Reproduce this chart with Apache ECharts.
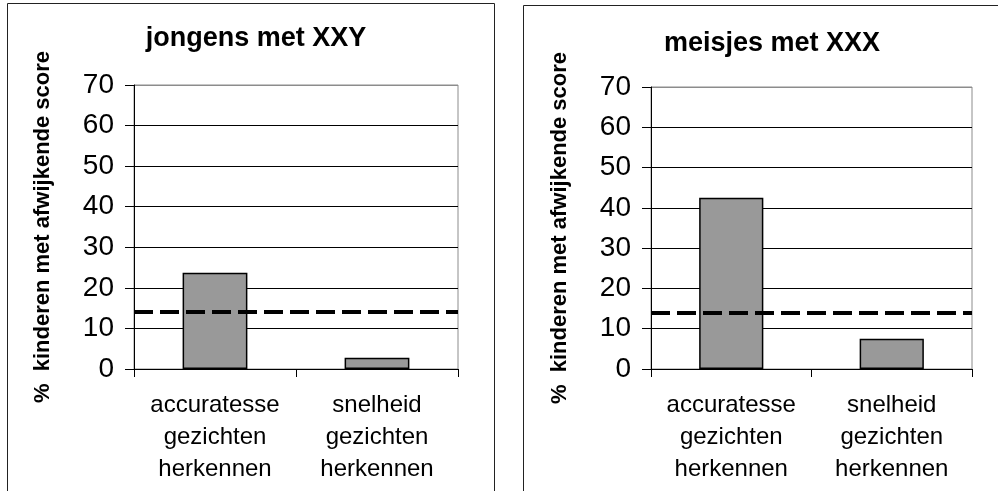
<!DOCTYPE html>
<html>
<head>
<meta charset="utf-8">
<script src="https://cdn.jsdelivr.net/npm/echarts@6/dist/echarts.min.js"></script>
<style>
  html, body { margin: 0; padding: 0; background: #ffffff; }
  #chart { width: 998px; height: 491px; }
</style>
</head>
<body>
<div id="chart"></div>
<script>
// Categories shared by both panels
const categories = ['accuratesse\ngezichten\nherkennen', 'snelheid\ngezichten\nherkennen'];
// Percentage of children with a deviant score
const boysXXY = [23.7, 2.8];
const girlsXXX = [42.5, 7.5];
// Reference level drawn as dashed line
const referenceLevel = [14, 14];
const panelTitles = ['jongens met XXY', 'meisjes met XXX'];
const yAxisTitle = '%  kinderen met afwijkende score';

const FONT = "'Liberation Sans', Arial, sans-serif";

const grids = [
  { left: 134, top: 85, width: 324, height: 284 },
  { left: 651, top: 87, width: 321, height: 282 }
];

function yAxisFor(i) {
  return {
    type: 'value', gridIndex: i, min: 0, max: 70, interval: 10,
    name: yAxisTitle, nameLocation: 'middle', nameGap: 80,
    nameTextStyle: { fontFamily: FONT, fontSize: 22, fontWeight: 'bold', color: '#000' },
    axisLine: { show: true, lineStyle: { color: '#000', width: 1 } },
    axisTick: { show: true, length: 9, lineStyle: { color: '#000', width: 1 } },
    axisLabel: { fontFamily: FONT, fontSize: 28, color: '#000', margin: 20 },
    splitLine: { show: true, lineStyle: { color: ['#000', '#000', '#000', '#000', '#000', '#000', '#000', '#8c8c8c'], width: 1 } }
  };
}

function xAxisFor(i) {
  return {
    type: 'category', gridIndex: i, data: categories,
    axisLine: { show: true, lineStyle: { color: '#000', width: 1 } },
    axisTick: { show: true, length: 8, lineStyle: { color: '#000', width: 1 } },
    axisLabel: { fontFamily: FONT, fontSize: 24, color: '#000', margin: 20, lineHeight: 32, interval: 0 }
  };
}

function barSeries(i, values) {
  return {
    type: 'bar', xAxisIndex: i, yAxisIndex: i, data: values,
    barWidth: '40%',
    itemStyle: { color: '#999999', borderColor: '#000', borderWidth: 1.5 },
    silent: true,
    markLine: {
      silent: true, symbol: 'none', label: { show: false },
      lineStyle: { color: '#000', width: 4, type: [19, 7] },
      data: [{ yAxis: referenceLevel[i] }]
    }
  };
}

const chart = echarts.init(document.getElementById('chart'), null, { renderer: 'canvas' });
chart.setOption({
  animation: false,
  backgroundColor: '#ffffff',
  title: [
    { text: panelTitles[0], left: 251, top: 20, textAlign: 'center',
      textStyle: { fontFamily: FONT, fontSize: 27, fontWeight: 'bold', color: '#000' } },
    { text: panelTitles[1], left: 767, top: 25, textAlign: 'center',
      textStyle: { fontFamily: FONT, fontSize: 27, fontWeight: 'bold', color: '#000' } }
  ],
  graphic: [
    { type: 'rect', shape: { x: 7.5, y: 3.5, width: 487, height: 500 }, style: { fill: 'none', stroke: '#222', lineWidth: 1 }, silent: true },
    { type: 'rect', shape: { x: 523.5, y: 5.5, width: 487, height: 500 }, style: { fill: 'none', stroke: '#222', lineWidth: 1 }, silent: true }
  ],
  grid: grids.map(g => Object.assign({ show: true, borderColor: '#8c8c8c', borderWidth: 1, backgroundColor: 'transparent' }, g)),
  xAxis: [xAxisFor(0), xAxisFor(1)],
  yAxis: [yAxisFor(0), yAxisFor(1)],
  series: [barSeries(0, boysXXY), barSeries(1, girlsXXX)]
});
</script>
</body>
</html>
